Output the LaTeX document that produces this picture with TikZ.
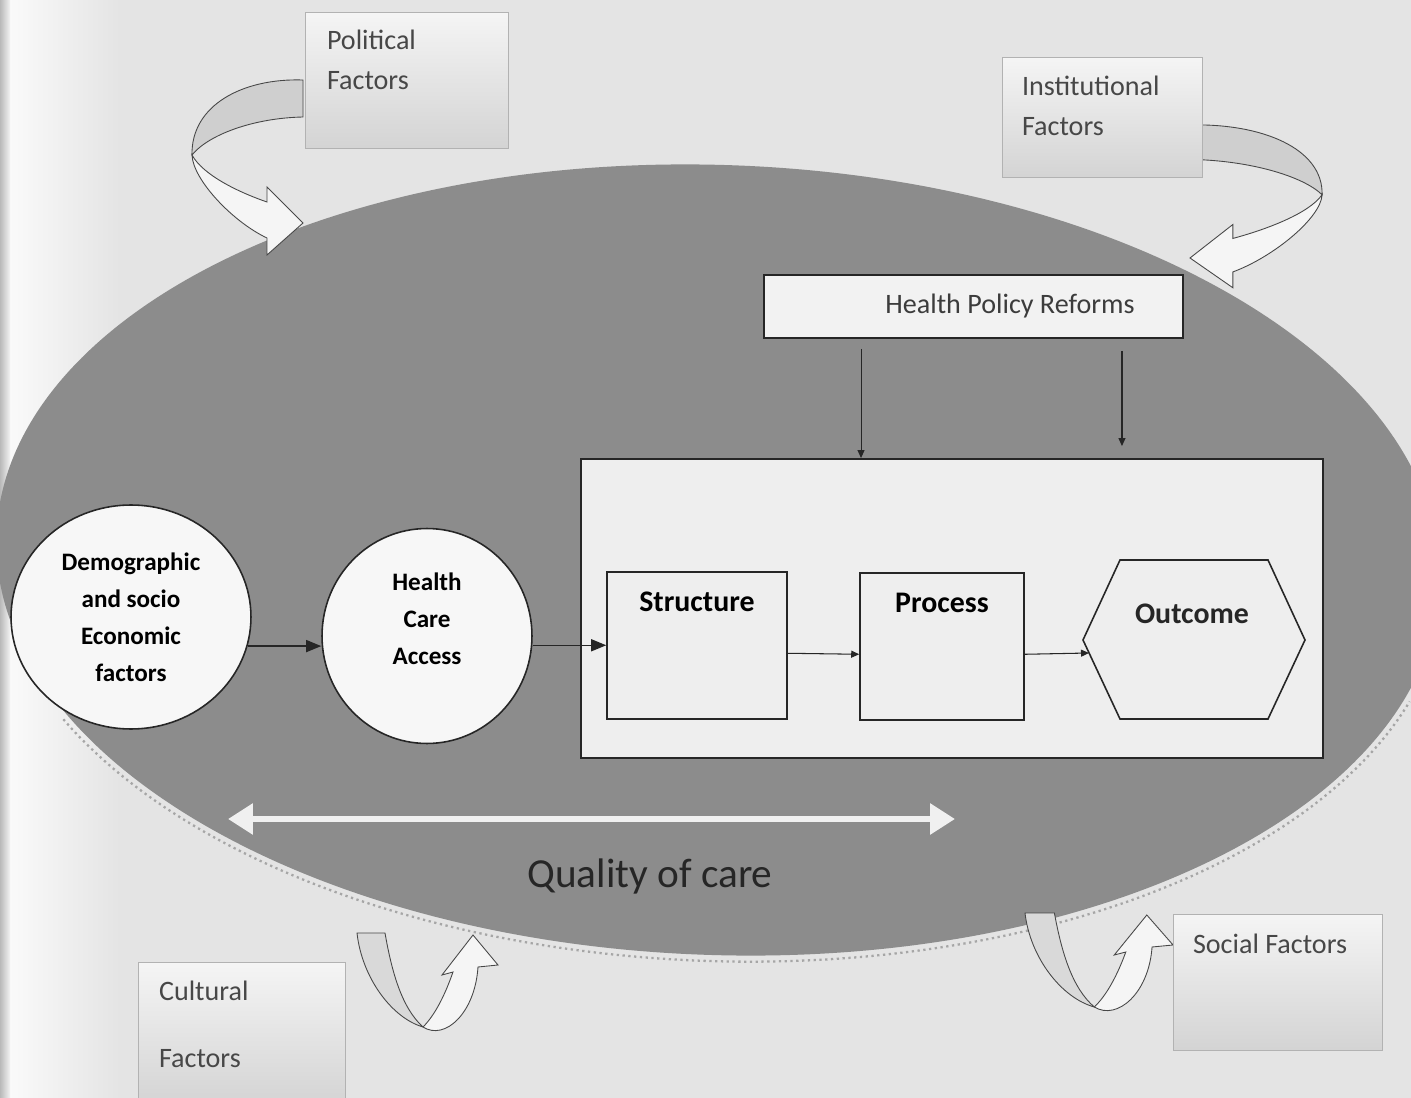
\documentclass[tikz,border=0pt]{standalone}
\usepackage{fontspec}
\setmainfont{Carlito}
\usetikzlibrary{arrows.meta,positioning,shapes.geometric}

\definecolor{pagebg}{RGB}{228,228,228}
\definecolor{oval}{RGB}{140,140,140}
\definecolor{ink}{RGB}{38,38,38}

\begin{document}
\begin{tikzpicture}[
    x=0.02cm, y=-0.02cm,
    factor/.style={draw=gray!60, line width=0.4pt, top color=gray!8, bottom color=gray!34, inner sep=0pt},
    factortext/.style={anchor=north west, inner sep=0pt, align=left, text=ink!85, font=\fontsize{16}{23}\selectfont},
    reform/.style={draw=ink, line width=1pt, fill=gray!10, minimum width=8.38cm, minimum height=1.26cm, text=ink!90, font=\fontsize{16}{19}\selectfont},
    stage/.style={draw=ink, line width=0.9pt, fill=gray!13, anchor=north, inner ysep=0pt, text height=0.8cm, text depth=2.14cm, font=\bfseries\fontsize{17}{20}\selectfont},
    hub/.style={ellipse, draw=ink, line width=0.9pt, fill=gray!6, align=center, inner sep=0pt, font=\bfseries\fontsize{14.3}{21}\selectfont},
    flow/.style={-{Triangle[length=0.3cm, width=0.24cm]}, line width=0.8pt, draw=ink},
    tick/.style={-{Triangle[length=0.16cm, width=0.14cm]}, line width=0.6pt, draw=ink},
    span/.style={{Triangle[length=0.5cm, width=0.6cm]}-{Triangle[length=0.5cm, width=0.6cm]}, line width=0.12cm, draw=gray!12},
    arrowline/.style={draw=ink!85, line width=0.5pt},
    bendarrow/.pic={
      \filldraw[arrowline, fill=gray!38] (0,0) .. controls (-60,-2) and (-112,25) .. (-111,75)
        .. controls (-95,55) and (-50,38) .. (0,37) -- cycle;
      \filldraw[arrowline, fill=gray!8] (-111,75) .. controls (-110,100) and (-70,142) .. (-36,158)
        -- (-36,175) -- (0,143) -- (-36,107) -- (-36,122)
        .. controls (-65,112) and (-100,95) .. (-111,75) -- cycle;
    },
    uarrow/.pic={
      \filldraw[arrowline, fill=gray!30] (0,0) -- (28,0) .. controls (35,40) and (45,75) .. (66,94)
        .. controls (35,85) and (5,45) .. (0,0) -- cycle;
      \filldraw[arrowline, fill=gray!8] (66,94) .. controls (88,108) and (118,80) .. (121,34)
        -- (141,32) -- (116,2) -- (85,42) -- (96,39)
        .. controls (88,62) and (78,82) .. (66,94) -- cycle;
    }
  ]
  \useasboundingbox (0,0) rectangle (1411,1098);
  \clip (0,0) rectangle (1411,1098);

  % page and the shaded margin on the left
  \fill[pagebg] (0,0) rectangle (1411,1098);
  \shade[left color=gray!4, right color=pagebg] (10,0) rectangle (120,1098);
  \shade[left color=gray!55, right color=gray!10] (0,0) rectangle (10,1098);

  % the big oval with its dotted rim
  \begin{scope}[rotate around={-2:(718,560)}]
    \fill[oval] (718,560) ellipse [x radius=722, y radius=395];
    \draw[gray!70, line width=1.3pt, dotted, shift={(718,560)}]
      (153:728 and 401) arc [start angle=153, end angle=17, x radius=728, y radius=401];
  \end{scope}

  % bent arrows
  \pic (politicalarrow) at (303,80) {bendarrow};
  \pic[xscale=-1.19, yscale=0.93] (institutionalarrow) at (1190,125) {bendarrow};
  \pic (culturalarrow) at (357,933) {uarrow};
  \pic[xscale=1.05] (socialarrow) at (1025,913) {uarrow};

  % factor boxes
  \node[factor, minimum width=4.06cm, minimum height=2.72cm] (political) at (406.5,80) {};
  \node[factortext] (politicaltxt) at ([xshift=0.44cm, yshift=-0.36cm]political.north west) {Political\\Factors};
  \node[factor, minimum width=4.0cm, minimum height=2.4cm] (institutional) at (1102,117) {};
  \node[factortext] (institutionaltxt) at ([xshift=0.4cm, yshift=-0.38cm]institutional.north west) {Institutional\\Factors};
  \node[factor, minimum width=4.14cm, minimum height=2.86cm] (cultural) at (241.5,1033.5) {};
  \node[factortext] (culturaltxt) at ([xshift=0.42cm, yshift=-0.38cm]cultural.north west) {Cultural\\[15pt]Factors};
  \node[factor, minimum width=4.18cm, minimum height=2.72cm] (social) at (1277.5,982) {};
  \node[factortext] (socialtxt) at ([xshift=0.4cm, yshift=-0.4cm]social.north west) {Social Factors};

  % policy box and the care frame
  \node[reform] (reforms) at (973.5,306.5) {\hspace*{1.46cm}Health Policy Reforms};
  \node[draw=ink, line width=1.1pt, fill=gray!13, minimum width=14.84cm, minimum height=5.98cm] (frame) at (952,608.5) {};

  \node[stage, minimum width=3.6cm] (structure) at (697,571) {Structure};
  \node[stage, minimum width=3.28cm] (process) at (942,572) {Process};
  \filldraw[draw=ink, line width=0.9pt, fill=gray!13]
    (1120,560) -- (1268,560) -- (1305,640) -- (1268,719) -- (1120,719) -- (1083,640) -- cycle;
  \coordinate (outcomein) at (1089,653);
  \node[font=\bfseries\fontsize{17}{20}\selectfont, text=ink] (outcome) at (1192,614) {Outcome};

  \node[hub, minimum width=4.8cm, minimum height=4.48cm] (demographic) at (131,617) {Demographic\\and socio\\Economic\\factors};
  \node[hub, minimum width=4.2cm, minimum height=4.3cm, text depth=20pt] (access) at (427,636) {Health\\Care\\Access};

  \draw[flow] (demographic.-14) -- (demographic.-14 -| access.west);
  \draw[flow] (access.east |- structure.west) -- (structure.west);
  \draw[tick] ([yshift=-0.16cm]structure.east) -- ([yshift=-0.16cm]process.west);
  \draw[tick] ([yshift=-0.16cm]process.east) -- (outcomein);

  \draw[tick, shorten <=0.2cm] ([xshift=-2.25cm]reforms.south) -- ([xshift=-2.25cm]reforms.south |- frame.north);
  \draw[tick, shorten <=0.24cm, shorten >=0.24cm] ([xshift=2.97cm]reforms.south) -- ([xshift=2.97cm]reforms.south |- frame.north);

  % quality of care
  \coordinate (qualityleft) at (228,819);
  \coordinate (qualityright) at (955,819);
  \draw[span] (qualityleft) -- (qualityright);
  \node[font=\fontsize{23.5}{28}\selectfont, text=ink] (quality) at (650,876) {Quality of care};
\end{tikzpicture}
\end{document}
